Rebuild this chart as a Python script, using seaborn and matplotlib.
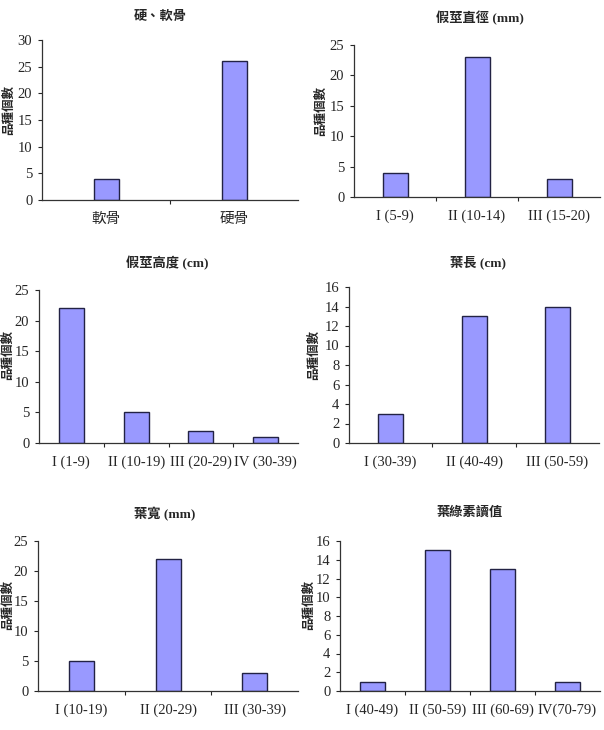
import numpy as np
import pandas as pd
import seaborn as sns
import matplotlib.pyplot as plt
from matplotlib.ticker import FixedLocator

# ---- data ----
bone_labels = ["軟骨", "硬骨"]
bone_counts = [4, 26]

diam_labels = ["I (5-9)", "II (10-14)", "III (15-20)"]
diam_counts = [4, 23, 3]

height_labels = ["I (1-9)", "II (10-19)", "III (20-29)", "IV (30-39)"]
height_counts = [22, 5, 2, 1]

length_labels = ["I (30-39)", "II (40-49)", "III (50-59)"]
length_counts = [3, 13, 14]

width_labels = ["I (10-19)", "II (20-29)", "III (30-39)"]
width_counts = [5, 22, 3]

chl_labels = ["I (40-49)", "II (50-59)", "III (60-69)", "IV(70-79)"]
chl_counts = [1, 15, 13, 1]

titles = ["硬、軟骨", "假莖直徑 (mm)", "假莖高度 (cm)", "葉長 (cm)", "葉寬 (mm)", "葉綠素讀值"]
ylims = [30, 25, 25, 16, 25, 16]
ysteps = [5, 5, 5, 2, 5, 2]

sns.set_style("ticks")
plt.rcParams['font.family'] = ['Liberation Serif', 'Noto Sans CJK TC']

W, H = 604, 730
fig = plt.figure(figsize=(W / 100, H / 100), dpi=100)

# axes boxes in pixels: left, top, right, bottom
boxes = [
    (42, 40, 298, 200),
    (354, 45, 600, 197),
    (39, 290, 298, 443),
    (349, 287, 599, 443),
    (38, 541, 298, 691),
    (340, 541, 600, 691),
]
# title centre (x, y) and y-label centre (x, y) in pixels
title_pos = [(160, 17), (480, 18), (167, 263), (478, 262), (165, 514), (470, 513)]
ylab_pos = [(9, 110), (321, 111), (8, 355), (314, 355), (8, 605), (309, 605)]

panels = [
    (bone_labels, bone_counts),
    (diam_labels, diam_counts),
    (height_labels, height_counts),
    (length_labels, length_counts),
    (width_labels, width_counts),
    (chl_labels, chl_counts),
]

for i, ((labels, counts), (l, t, r, b)) in enumerate(zip(panels, boxes)):
    ax = fig.add_axes([l / W, 1 - b / H, (r - l) / W, (b - t) / H])
    n = len(labels)
    slot = (r - l) / n
    bw = 25 / slot  # bars are ~25 px wide in every panel
    df = pd.DataFrame({"cat": labels, "n": counts})
    sns.barplot(data=df, x="cat", y="n", ax=ax, color="#9999FF",
                edgecolor="#222244", linewidth=1.0, width=bw, saturation=1)
    ax.set_xlim(-0.5, n - 0.5)
    ax.set_ylim(0, ylims[i])
    ax.set_yticks(np.arange(0, ylims[i] + 1, ysteps[i]))
    ax.tick_params(axis="y", labelsize=10.5, length=3, width=0.8, pad=4)
    ax.tick_params(axis="x", which="major", length=0, labelsize=10.5, pad=9)
    ax.xaxis.set_minor_locator(FixedLocator(np.arange(0.5, n - 0.5, 1)))
    ax.tick_params(axis="x", which="minor", length=3, width=0.8, direction="out")
    ax.set_xlabel("")
    ax.set_ylabel("")
    sns.despine(ax=ax)
    for s in ["left", "bottom"]:
        ax.spines[s].set_linewidth(0.9)
        ax.spines[s].set_color("#333333")

    tx, ty = title_pos[i]
    fig.text(tx / W, 1 - ty / H, titles[i], fontsize=9.5, fontweight="bold",
             ha="center", va="center")
    lx, ly = ylab_pos[i]
    fig.text(lx / W, 1 - ly / H, "品種個數", fontsize=9, fontweight="bold",
             rotation=90, ha="center", va="center")

fig.savefig("out.png", dpi=100, facecolor="white")
